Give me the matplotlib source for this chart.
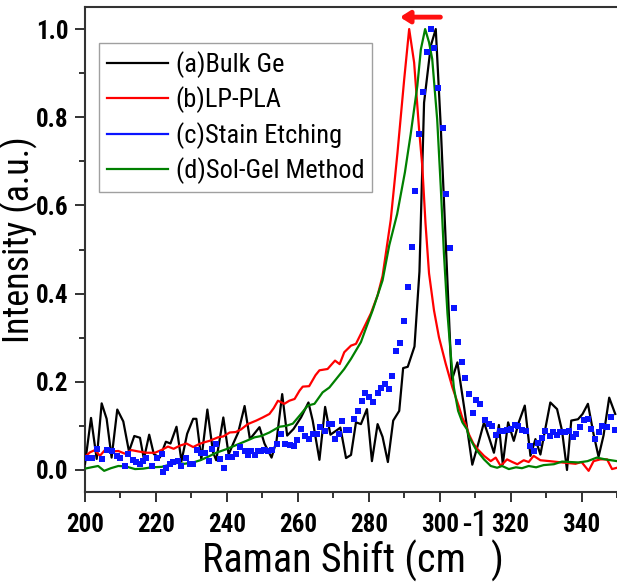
import os
import matplotlib
matplotlib.use("Agg")
import matplotlib.pyplot as plt
from matplotlib.lines import Line2D
from matplotlib.ticker import MultipleLocator
from matplotlib import font_manager
from matplotlib.font_manager import FontProperties

# ---------------- data ----------------
bulk_x = [200.0, 201.7, 203.3, 204.7, 206.1, 207.5, 209.1, 210.8, 212.4, 213.9, 215.5, 216.6,
          218.1, 219.4, 221.1, 222.8, 224.1, 225.8, 227.2, 228.8, 230.5, 231.4, 232.8, 234.5,
          236.1, 237.0, 239.0, 240.5, 241.8, 243.2, 245.0, 246.5, 247.7, 249.2, 250.6, 252.6,
          254.0, 255.6, 257.0, 258.8, 260.9, 263.0, 264.2, 266.1, 267.7, 269.2, 270.8, 272.0,
          273.6, 275.0, 276.4, 277.8, 279.5, 280.9, 282.5, 283.9, 285.4, 286.9, 288.6, 289.7,
          291.0, 292.9, 294.3, 295.6, 297.5, 298.9, 300.3, 301.8, 303.4, 305.0, 306.9, 309.2,
          311.1, 312.5, 313.9, 315.3, 316.7, 317.8, 319.3, 320.9, 322.3, 324.0, 325.6, 327.0,
          328.4, 331.2, 333.1, 334.5, 335.9, 337.1, 339.0, 340.3, 341.8, 343.4, 344.8, 346.2,
          347.8, 349.5]
bulk_y = [0.014, 0.118, 0.025, 0.151, 0.116, 0.028, 0.137, 0.110, 0.042, 0.077, 0.073, 0.025,
          0.080, 0.036, 0.028, 0.064, 0.060, 0.098, 0.020, 0.082, 0.116, 0.116, 0.024, 0.137,
          0.040, 0.022, 0.119, 0.035, 0.060, 0.085, 0.145, 0.070, 0.082, 0.097, 0.060, 0.028,
          0.066, 0.172, 0.078, 0.093, 0.119, 0.153, 0.112, 0.023, 0.143, 0.080, 0.089, 0.096,
          0.027, 0.034, 0.108, 0.104, 0.138, 0.020, 0.104, 0.075, 0.018, 0.112, 0.134, 0.231,
          0.234, 0.280, 0.450, 0.833, 0.962, 1.000, 0.780, 0.500, 0.203, 0.244, 0.142, 0.012,
          0.066, 0.108, 0.074, 0.039, 0.102, 0.013, 0.108, 0.066, 0.108, 0.146, 0.032, 0.070,
          0.035, 0.153, 0.138, 0.089, 0.000, 0.112, 0.115, 0.127, 0.150, 0.081, 0.030, 0.078,
          0.164, 0.127]

lppla_x = [200.0, 201.4, 202.8, 204.2, 205.6, 207.5, 209.4, 211.2, 213.1, 215.0, 217.3, 219.7,
           221.5, 223.4, 225.0, 226.7, 228.6, 230.5, 232.0, 233.3, 235.1, 237.5, 239.0, 240.8,
           242.5, 244.0, 245.9, 248.3, 250.1, 252.0, 253.2, 254.4, 256.2, 257.6, 259.1, 260.5,
           261.4, 263.2, 265.0, 266.1, 268.4, 269.6, 270.5, 271.8, 273.1, 275.0, 276.4, 278.3,
           280.6, 282.5, 283.9, 286.2, 288.1, 290.0, 291.4, 292.8, 294.2, 295.1, 296.0, 297.0,
           298.4, 299.8, 301.7, 303.6, 305.5, 306.4, 307.3, 308.3, 309.5, 310.6, 312.5, 314.4,
           315.8, 317.2, 319.0, 320.5, 321.9, 323.7, 325.1, 326.5, 328.4, 331.0, 334.5, 338.3,
           340.0, 342.0, 343.4, 345.3, 347.2, 348.6, 350.0]
lppla_y = [0.030, 0.040, 0.045, 0.032, 0.045, 0.042, 0.043, 0.037, 0.045, 0.042, 0.039, 0.039,
           0.045, 0.053, 0.048, 0.055, 0.060, 0.052, 0.058, 0.062, 0.066, 0.074, 0.076, 0.085,
           0.086, 0.092, 0.104, 0.112, 0.119, 0.127, 0.140, 0.157, 0.150, 0.157, 0.161, 0.180,
           0.189, 0.190, 0.215, 0.226, 0.229, 0.240, 0.248, 0.240, 0.267, 0.282, 0.286, 0.317,
           0.355, 0.396, 0.440, 0.567, 0.719, 0.886, 1.000, 0.924, 0.772, 0.689, 0.560, 0.446,
           0.362, 0.301, 0.241, 0.187, 0.142, 0.118, 0.103, 0.080, 0.060, 0.048, 0.032, 0.020,
           0.028, 0.009, 0.024, 0.018, 0.013, 0.022, 0.018, 0.032, 0.022, 0.020, 0.017, 0.014,
           0.018, -0.002, 0.020, 0.024, 0.024, 0.002, 0.005]

stain_x = [200.5, 201.9, 203.3, 204.7, 206.1, 207.5, 208.9, 209.8, 211.2, 212.2, 213.6, 214.5,
           215.5, 216.4, 217.3, 218.8, 220.3, 221.6, 222.0, 222.8, 223.9, 224.8, 226.2, 227.2,
           228.4, 229.5, 230.5, 231.6, 232.8, 233.7, 235.0, 235.9, 237.0, 238.2, 239.1, 240.3,
           241.5, 242.5, 243.8, 245.0, 245.9, 246.9, 247.8, 248.7, 249.7, 250.6, 251.5, 252.8,
           254.1, 255.3, 256.5, 257.8, 258.8, 259.7, 260.9, 261.9, 263.1, 264.2, 265.3, 266.3,
           267.8, 268.7, 269.7, 270.6, 271.5, 272.6, 273.6, 274.5, 275.9, 277.1, 278.1, 279.0,
           280.1, 281.3, 282.5, 283.4, 284.6, 285.6, 286.7, 287.8, 288.9, 290.0, 291.1, 292.1,
           293.1, 294.2, 295.3, 296.4, 297.5, 298.5, 299.6, 300.8, 301.8, 302.8, 304.0, 305.1,
           306.2, 307.2, 308.3, 309.5, 310.3, 311.4, 312.8, 313.9, 314.8, 315.8, 316.9, 317.8,
           319.0, 320.0, 321.2, 322.1, 323.3, 324.4, 325.6, 326.5, 327.8, 328.9, 329.8, 331.0,
           331.9, 333.1, 334.0, 335.3, 336.4, 337.5, 338.4, 339.5, 340.6, 341.8, 342.8, 343.9,
           345.0, 345.9, 347.2, 348.3, 349.3]
stain_y = [0.027, 0.028, 0.047, 0.024, 0.045, 0.043, 0.032, 0.028, 0.009, 0.036, 0.022, 0.017,
           0.014, 0.020, 0.028, 0.009, 0.028, 0.036, -0.004, 0.005, 0.013, 0.017, 0.020, 0.009,
           0.028, 0.013, 0.014, 0.045, 0.039, 0.039, 0.020, 0.047, 0.059, 0.024, 0.005, 0.030,
           0.030, 0.037, 0.052, 0.043, 0.034, 0.042, 0.034, 0.042, 0.043, 0.045, 0.042, 0.045,
           0.060, 0.081, 0.060, 0.057, 0.055, 0.068, 0.093, 0.077, 0.070, 0.081, 0.081, 0.098,
           0.089, 0.105, 0.105, 0.070, 0.081, 0.112, 0.090, 0.090, 0.115, 0.133, 0.156, 0.174,
           0.165, 0.153, 0.174, 0.187, 0.195, 0.184, 0.212, 0.270, 0.288, 0.338, 0.415, 0.506,
           0.632, 0.761, 0.857, 0.947, 1.000, 0.957, 0.867, 0.776, 0.626, 0.503, 0.367, 0.290,
           0.245, 0.208, 0.173, 0.129, 0.159, 0.150, 0.114, 0.105, 0.100, 0.080, 0.089, 0.089,
           0.090, 0.094, 0.102, 0.100, 0.090, 0.089, 0.055, 0.042, 0.062, 0.072, 0.089, 0.077,
           0.085, 0.080, 0.085, 0.085, 0.089, 0.074, 0.081, 0.098, 0.113, 0.115, 0.093, 0.070,
           0.085, 0.100, 0.098, 0.119, 0.090]

solgel_x = [200.0, 201.8, 203.7, 205.4, 207.3, 209.4, 211.5, 214.1, 216.4, 218.8, 221.6, 224.4,
            226.0, 228.1, 230.9, 232.5, 234.2, 237.0, 239.8, 242.2, 245.5, 247.8, 249.7, 252.0,
            254.8, 256.7, 258.6, 260.9, 262.8, 264.7, 267.0, 268.9, 271.2, 273.1, 275.0, 276.4,
            277.8, 279.2, 281.1, 282.5, 283.9, 285.8, 288.0, 290.2, 291.8, 293.7, 294.7, 295.9,
            297.0, 297.9, 299.3, 300.3, 301.2, 302.2, 303.1, 304.0, 305.2, 306.4, 307.7, 308.3,
            310.2, 312.5, 314.4, 316.2, 317.6, 319.5, 321.5, 323.2, 325.1, 327.2, 329.3, 332.2,
            334.5, 336.8, 339.2, 341.7, 344.3, 346.7, 350.0]
solgel_y = [0.003, 0.006, 0.009, -0.002, 0.004, 0.009, 0.008, 0.002, 0.003, 0.006, 0.007, 0.013,
            0.016, 0.014, 0.018, 0.022, 0.028, 0.039, 0.047, 0.055, 0.066, 0.074, 0.077, 0.085,
            0.098, 0.100, 0.105, 0.127, 0.146, 0.150, 0.176, 0.187, 0.210, 0.229, 0.252, 0.271,
            0.290, 0.321, 0.362, 0.396, 0.430, 0.510, 0.580, 0.675, 0.760, 0.871, 0.954, 1.000,
            0.970, 0.932, 0.795, 0.643, 0.491, 0.355, 0.264, 0.187, 0.134, 0.108, 0.092, 0.075,
            0.047, 0.024, 0.009, 0.005, 0.009, 0.002, 0.006, 0.004, 0.009, 0.006, 0.011, 0.013,
            0.019, 0.018, 0.017, 0.020, 0.028, 0.024, 0.020]

labels = ["(a)Bulk Ge", "(b)LP-PLA", "(c)Stain Etching", "(d)Sol-Gel Method"]
x_ticks = [200, 220, 240, 260, 280, 300, 320, 340]
y_ticks = [0.0, 0.2, 0.4, 0.6, 0.8, 1.0]
x_label_parts = ["Raman Shift (cm", "-1", ")"]
y_label = "Intensity (a.u.)"
arrow_from, arrow_to, arrow_y = 300.2, 288.8, 1.027


# ---------------- fonts: look for a narrow sans ----------------
def find_font(patterns, bold):
    files = sorted({f.fname for f in font_manager.fontManager.ttflist})
    bad = ["italic", "oblique", "semi", "extra", "light", "medium", "thin", "black", "ultra"]
    for pat in patterns:
        for fn in files:
            b = os.path.basename(fn).lower().replace("_", "").replace("-", "")
            if pat not in b:
                continue
            if any(w in b for w in bad):
                continue
            if ("bold" in b) != bold:
                continue
            return fn
    return None


narrow_pats = ["liberationsansnarrow", "arialnarrow", "robotocondensed", "notosanscondensed",
               "opensanscondensed", "dejavusanscondensed"]
f_reg = find_font(narrow_pats, False)
f_bold = find_font(narrow_pats, True)


def fp(size, bold=False):
    fn = f_bold if bold else f_reg
    if fn:
        return FontProperties(fname=fn, size=size)
    return FontProperties(family=["Liberation Sans", "DejaVu Sans"], size=size,
                          weight="bold" if bold else "normal")


W, H = 617, 583
fig = plt.figure(figsize=(W / 100, H / 100), dpi=100)
ax = fig.add_axes([85 / W, 1 - 492 / H, (W - 85) / W, (492 - 7) / H])

ax.plot(bulk_x, bulk_y, color="black", lw=1.6, zorder=3)
ax.plot(lppla_x, lppla_y, color="#ff0000", lw=1.6, zorder=3)
ax.plot(stain_x, stain_y, ls="none", marker="s", ms=4.2, color="#0a14ff", mew=0, zorder=4)
ax.plot(solgel_x, solgel_y, color="#008000", lw=1.6, zorder=3)

ax.set_xlim(200, 350)
ax.set_ylim(-0.05, 1.05)
ax.set_xticks(x_ticks)
ax.set_yticks(y_ticks)
ax.xaxis.set_minor_locator(MultipleLocator(10))
ax.yaxis.set_minor_locator(MultipleLocator(0.1))
ax.set_xticklabels([str(v) for v in x_ticks])
ax.set_yticklabels([f"{v:.1f}" for v in y_ticks])
ax.tick_params(which="major", direction="out", length=7, width=1.3, colors="#222222")
ax.tick_params(which="minor", direction="out", length=4, width=1.3, colors="#222222")
ax.tick_params(axis="x", pad=8)
ax.tick_params(axis="y", pad=5)
tick_fp = fp(18, bold=True)
for lab in ax.get_xticklabels() + ax.get_yticklabels():
    lab.set_fontproperties(tick_fp)
    lab.set_color("black")
for s in ["left", "bottom", "top"]:
    ax.spines[s].set_linewidth(1.5)
    ax.spines[s].set_color("#333333")
ax.spines["right"].set_visible(False)

ax.annotate("", xy=(arrow_to, arrow_y), xytext=(arrow_from, arrow_y),
            arrowprops=dict(arrowstyle="-|>,head_length=0.55,head_width=0.35",
                            color="#ff1010", lw=3.5, shrinkA=0, shrinkB=0),
            annotation_clip=False)

handles = [Line2D([], [], color="black", lw=1.6),
           Line2D([], [], color="#ff0000", lw=1.6),
           Line2D([], [], color="#0a14ff", lw=1.6),
           Line2D([], [], color="#008000", lw=1.6)]
leg = ax.legend(handles, labels, loc="upper left", bbox_to_anchor=(14 / 532, 1 - 36 / 485),
                prop=fp(19), frameon=True, fancybox=False, handlelength=2.3,
                handletextpad=0.3, labelspacing=0.33, borderpad=0.3, borderaxespad=0)
leg.get_frame().set_edgecolor("#888888")
leg.get_frame().set_linewidth(1.0)

# y label
fig.text(19 / W, 1 - 240 / H, y_label, fontproperties=fp(26), rotation=90,
         ha="center", va="center")

# x label built from pieces so the superscript can be full size
lab_fp = fp(29)
base_y = 1 - 573 / H
sup_y = 1 - 536 / H
fig.text(466 / W, base_y, x_label_parts[0], fontproperties=lab_fp, ha="right", va="baseline")
fig.text(489 / W, sup_y, x_label_parts[1], fontproperties=fp(26), ha="right", va="baseline")
fig.text(491 / W, base_y, x_label_parts[2], fontproperties=lab_fp, ha="left", va="baseline")

fig.savefig("out.png", dpi=100)
